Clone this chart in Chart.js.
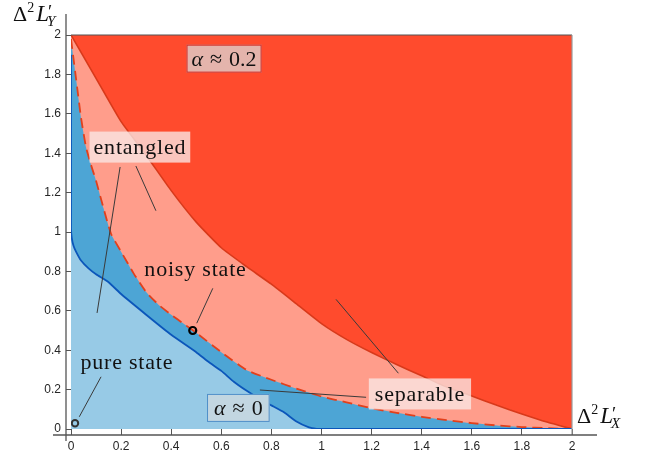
<!DOCTYPE html>
<html>
<head>
<meta charset="utf-8">
<script src="https://cdn.jsdelivr.net/npm/chart.js@4.4.1/dist/chart.umd.min.js"></script>
<style>
  html, body { margin: 0; padding: 0; background: #fff; }
  #wrap { width: 657px; height: 457px; }
</style>
</head>
<body>
<div id="wrap"><canvas id="chart" width="657" height="457"></canvas></div>
<script>
// separable boundary (edge of the red region)
const upperX = [0, 0.1, 0.2, 0.3, 0.4, 0.5, 0.6, 0.7, 0.8, 0.9, 1.0, 1.1, 1.2, 1.3, 1.4, 1.5, 1.6, 1.7, 1.8, 1.9, 2.0];
const upperY = [2.0, 1.78, 1.56, 1.39, 1.21, 1.05, 0.92, 0.825, 0.735, 0.635, 0.535, 0.455, 0.388, 0.327, 0.27, 0.213, 0.168, 0.12, 0.076, 0.035, 0.0];

// noisy state boundary (dashed)
const noisyX = [0, 0.01, 0.02, 0.04, 0.06, 0.08, 0.1, 0.13, 0.16, 0.2, 0.25, 0.3, 0.35, 0.4, 0.45, 0.5, 0.6, 0.7, 0.8, 0.9, 1.0, 1.1, 1.2, 1.3, 1.4, 1.5, 1.6, 1.7, 1.8, 1.9, 2.0];
const noisyY = [1.98, 1.88, 1.78, 1.58, 1.43, 1.34, 1.26, 1.12, 0.99, 0.90, 0.79, 0.695, 0.63, 0.58, 0.534, 0.488, 0.39, 0.30, 0.25, 0.205, 0.165, 0.135, 0.105, 0.082, 0.062, 0.045, 0.03, 0.018, 0.01, 0.004, 0];

// pure state boundary (solid blue)
const pureX = [0, 0, 0.003, 0.01, 0.02, 0.04, 0.07, 0.1, 0.15, 0.2, 0.3, 0.4, 0.5, 0.55, 0.6, 0.65, 0.7, 0.75, 0.8, 0.85, 0.9, 0.95, 0.98, 1.0, 2.0];
const pureY = [1.9, 1.02, 0.97, 0.93, 0.9, 0.855, 0.815, 0.785, 0.745, 0.685, 0.58, 0.478, 0.39, 0.34, 0.295, 0.24, 0.195, 0.155, 0.12, 0.085, 0.038, 0.008, 0.001, 0, 0];

// marked states
const noisyState = [0.486, 0.5];
const pureState = [0.016, 0.029];

const tickStep = 0.2;
const noteTexts = ['α ≈ 0.2', 'entangled', 'noisy state', 'pure state', 'separable', 'α ≈ 0'];

function pts(xs, ys) {
    return xs.map((v, i) => ({ x: v, y: ys[i] }));
}

const serif = '"Liberation Serif", "Times New Roman", serif';

// text made of runs (italic / sub / sup)
function runsWidth(ctx, runs) {
    let w = 0;
    runs.forEach(r => {
        ctx.font = r.font;
        w += ctx.measureText(r.t).width + (r.kern || 0);
    });
    return w;
}
function drawRuns(ctx, runs, x, y) {
    runs.forEach(r => {
        ctx.font = r.font;
        ctx.fillText(r.t, x, y + (r.dy || 0));
        x += ctx.measureText(r.t).width + (r.kern || 0);
    });
}
function textRuns(str) {
    if (str.startsWith('α')) {
        // math spacing around the relation sign
        const rest = str.slice(1).trim().split(' ');
        return [
            { t: 'α', font: 'italic 22px ' + serif, kern: 7 },
            { t: rest[0], font: '22px ' + serif, kern: 7 },
            { t: rest[1], font: '22px ' + serif }
        ];
    }
    return [{ t: str, font: '22px ' + serif }];
}

// annotation lines, labels and axis frame
const annotations = {
    id: 'annotations',
    afterDatasetsDraw(chart) {
        const { ctx, scales: { x, y } } = chart;
        const px = v => x.getPixelForValue(v);
        const py = v => y.getPixelForValue(v);
        ctx.save();

        // pointer lines
        const pointers = [
            [0.196, 1.330, 0.104, 0.589],
            [0.259, 1.335, 0.339, 1.108],
            [0.566, 0.714, 0.502, 0.537],
            [0.120, 0.265, 0.033, 0.062],
            [1.058, 0.658, 1.307, 0.283],
            [0.754, 0.198, 1.178, 0.161]
        ];
        ctx.strokeStyle = '#3a3a3a';
        ctx.lineWidth = 1;
        pointers.forEach(p => {
            ctx.beginPath();
            ctx.moveTo(px(p[0]), py(p[1]));
            ctx.lineTo(px(p[2]), py(p[3]));
            ctx.stroke();
        });

        // labels: text index, x, y (centre), box fill, box border, box padding
        const spots = [
            [0, 0.611, 1.880, '#E4B4AC', '#D2261F', 5],
            [1, 0.275, 1.431, 'rgba(250,232,229,0.78)', null, 4],
            [2, 0.497, 0.810, null, null, 0],
            [3, 0.223, 0.340, null, null, 0],
            [4, 1.393, 0.178, 'rgba(250,232,229,0.78)', null, 6],
            [5, 0.668, 0.107, '#C2D6E1', '#4F8FC9', 7]
        ];
        ctx.textBaseline = 'alphabetic';
        spots.forEach(s => {
            const mathLabel = s[0] === 0 || s[0] === 5;
            ctx.letterSpacing = mathLabel ? '0px' : '0.8px';
            const runs = textRuns(noteTexts[s[0]]);
            const w = runsWidth(ctx, runs);
            const cx = px(s[1]), cy = py(s[2]);
            if (s[3]) {
                const bw = w + 2 * s[5], bh = mathLabel ? 28 : 31;
                ctx.fillStyle = s[3];
                ctx.fillRect(cx - bw / 2, cy - bh / 2, bw, bh);
                if (s[4]) {
                    ctx.strokeStyle = s[4];
                    ctx.lineWidth = 1;
                    ctx.strokeRect(cx - bw / 2 + 0.5, cy - bh / 2 + 0.5, bw - 1, bh - 1);
                }
            }
            ctx.fillStyle = '#111';
            drawRuns(ctx, runs, cx - w / 2, cy + 7);
        });
        ctx.letterSpacing = '0px';
        ctx.restore();
    },
    afterDraw(chart) {
        const { ctx, chartArea: a } = chart;
        ctx.save();
        // box edges
        ctx.lineWidth = 1.2;
        ctx.strokeStyle = '#555';
        ctx.beginPath();
        ctx.moveTo(a.left, a.top);
        ctx.lineTo(a.right, a.top);
        ctx.stroke();
        ctx.strokeStyle = '#9a9a9a';
        ctx.beginPath();
        ctx.moveTo(a.right, a.top);
        ctx.lineTo(a.right, a.bottom + 6);
        ctx.stroke();
        // offset axes
        ctx.strokeStyle = '#555';
        ctx.lineWidth = 1.3;
        ctx.beginPath();
        ctx.moveTo(a.left - 5, a.top - 21);
        ctx.lineTo(a.left - 5, a.bottom + 12);
        ctx.moveTo(a.left - 18, a.bottom + 6);
        ctx.lineTo(a.right + 25, a.bottom + 6);
        ctx.stroke();

        // axis titles
        ctx.fillStyle = '#111';
        ctx.textBaseline = 'alphabetic';
        const title = sub => [
            { t: 'Δ', font: '22px ' + serif },
            { t: '2', font: '14px ' + serif, dy: -9, kern: 2 },
            { t: 'L', font: 'italic 23px ' + serif, kern: -1 },
            { t: '′', font: '19px ' + serif, dy: -3, kern: -5 },
            { t: sub, font: 'italic 15px ' + serif, dy: 5 }
        ];
        drawRuns(ctx, title('Y'), a.left - 58, a.top - 14);
        drawRuns(ctx, title('X'), a.right + 5, a.bottom - 6);
        ctx.restore();
    }
};

const ctx = document.getElementById('chart').getContext('2d');

const tickFont = { family: '"Liberation Sans", Arial, sans-serif', size: 12 };

const chart = new Chart(ctx, {
    type: 'scatter',
    data: {
        datasets: [
            {
                // pure states: light blue below the solid curve
                data: pts(pureX, pureY),
                showLine: true,
                borderColor: '#0B56BA',
                borderWidth: 1.8,
                backgroundColor: '#97CAE6',
                fill: 'origin',
                pointRadius: 0,
                tension: 0.15
            },
            {
                // noisy states: medium blue below the dashed curve
                data: pts(noisyX, noisyY),
                showLine: true,
                borderColor: '#E2401C',
                borderWidth: 1.8,
                borderDash: [10, 6],
                backgroundColor: '#4DA5D5',
                fill: 'origin',
                pointRadius: 0,
                tension: 0.15
            },
            {
                // entangled band: pink below the separable boundary
                data: pts(upperX, upperY),
                showLine: true,
                borderColor: '#D8391A',
                borderWidth: 1.6,
                backgroundColor: '#FF9D8B',
                fill: 'origin',
                pointRadius: 0,
                tension: 0.15
            },
            {
                // separable: red above the boundary
                data: pts(upperX, upperY),
                showLine: true,
                borderWidth: 0,
                borderColor: 'rgba(0,0,0,0)',
                backgroundColor: '#FF4B2D',
                fill: 'end',
                pointRadius: 0,
                tension: 0.15
            },
            {
                data: [{ x: noisyState[0], y: noisyState[1] }],
                pointRadius: 3.5,
                pointBorderWidth: 2.2,
                pointBorderColor: '#000',
                pointBackgroundColor: 'rgba(0,0,0,0)',
                order: -1
            },
            {
                data: [{ x: pureState[0], y: pureState[1] }],
                pointRadius: 3.2,
                pointBorderWidth: 2,
                pointBorderColor: '#333',
                pointBackgroundColor: 'rgba(0,0,0,0)',
                order: -1
            }
        ]
    },
    options: {
        responsive: false,
        animation: false,
        devicePixelRatio: 1,
        layout: { padding: { left: 0, top: 35, right: 85, bottom: 0 } },
        plugins: {
            legend: { display: false },
            tooltip: { enabled: false },
            filler: { drawTime: 'beforeDatasetsDraw' }
        },
        scales: {
            x: {
                type: 'linear',
                min: 0,
                max: 2,
                afterFit: s => { s.height = 28; },
                border: { display: false },
                grid: { drawOnChartArea: false, drawTicks: true, tickLength: 6, color: '#555', lineWidth: 1 },
                ticks: {
                    stepSize: tickStep,
                    padding: 4,
                    color: '#262626',
                    font: tickFont,
                    maxRotation: 0,
                    callback: v => String(+v.toFixed(1))
                }
            },
            y: {
                type: 'linear',
                min: 0,
                max: 2,
                afterFit: s => { s.width = 71; },
                border: { display: false },
                grid: { drawOnChartArea: false, drawTicks: true, tickLength: 5, color: '#555', lineWidth: 1 },
                ticks: {
                    stepSize: tickStep,
                    padding: 5,
                    color: '#262626',
                    font: tickFont,
                    callback: v => String(+v.toFixed(1))
                }
            }
        }
    },
    plugins: [annotations]
});
</script>
</body>
</html>
